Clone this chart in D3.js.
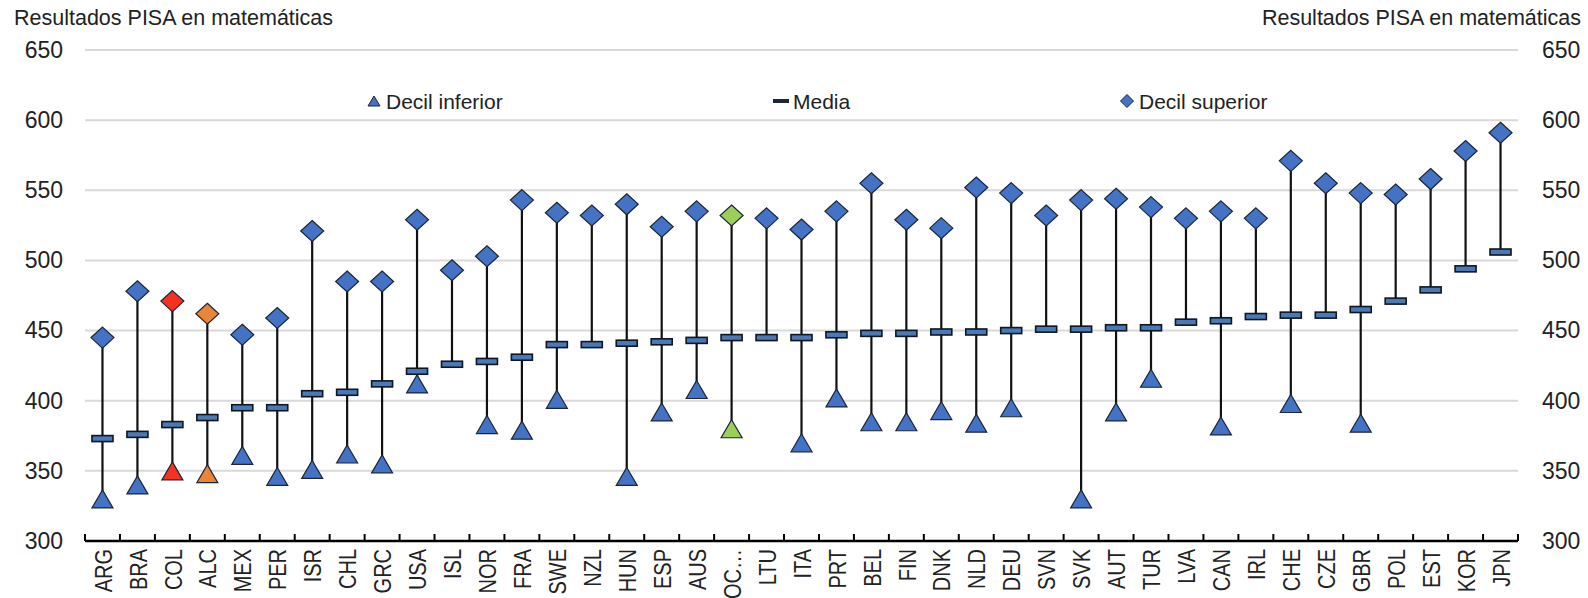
<!DOCTYPE html>
<html>
<head>
<meta charset="utf-8">
<script src="https://cdn.jsdelivr.net/npm/d3@7"></script>
<style>
  html, body { margin: 0; padding: 0; background: #fff; }
  svg { display: block; font-family: "Liberation Sans", Arial, sans-serif; }
</style>
</head>
<body>
<svg id="chart" width="1588" height="598"></svg>
<script>
const countries = ["ARG","BRA","COL","ALC","MEX","PER","ISR","CHL","GRC","USA","ISL","NOR","FRA","SWE","NZL","HUN","ESP","AUS","OC…","LTU","ITA","PRT","BEL","FIN","DNK","NLD","DEU","SVN","SVK","AUT","TUR","LVA","CAN","IRL","CHE","CZE","GBR","POL","EST","KOR","JPN"];
const lowerDecile = [330,340,350,348,361,346,351,362,355,412,null,383,379,401,null,346,392,408,380,null,370,402,385,385,393,384,395,null,330,392,416,null,382,null,398,null,384,null,null,null,null];
const meanScore = [373,376,383,388,395,395,405,406,412,421,426,428,431,440,440,441,442,443,445,445,445,447,448,448,449,449,450,451,451,452,452,456,457,460,461,461,465,471,479,494,506];
const upperDecile = [445,478,471,462,447,459,521,485,485,529,493,503,543,534,532,540,524,535,532,530,522,535,555,529,523,552,548,532,543,544,538,530,535,530,571,555,548,547,558,578,591];
const yTicks = [300,350,400,450,500,550,600,650];
const highlight = {"COL": "#f5311f", "ALC": "#ea8438", "OC…": "#9bcf5a"};
const legendItems = [
  {label: "Decil inferior", type: "tri", x: 374},
  {label: "Media", type: "dash", x: 781},
  {label: "Decil superior", type: "dia", x: 1127}
];
const axisTitle = "Resultados PISA en matemáticas";

const baseBlue = "#4472c4";
const outline = "#1b2636";

const svg = d3.select("#chart");
const pLeft = 85, pRight = 1518, pTop = 50, pBottom = 541;

const x = d3.scaleBand().domain(countries).range([pLeft, pRight]).padding(0);
const y = d3.scaleLinear().domain([300, 650]).range([pBottom, pTop]);

// gridlines
svg.append("g").selectAll("line").data(yTicks.filter(d => d > 300)).join("line")
  .attr("x1", pLeft).attr("x2", pRight)
  .attr("y1", d => y(d)).attr("y2", d => y(d))
  .attr("stroke", "#d9d9d9").attr("stroke-width", 2);

// y axes labels
const yl = d3.axisLeft(y).tickValues(yTicks).tickSize(0).tickPadding(22);
const gl = svg.append("g").attr("transform", `translate(${pLeft},0)`).call(yl);
gl.select(".domain").remove();
gl.selectAll("text").attr("font-size", 23).attr("fill", "#222").attr("font-family", "Liberation Sans, Arial, sans-serif");

const yr = d3.axisRight(y).tickValues(yTicks).tickSize(0).tickPadding(24);
const gr = svg.append("g").attr("transform", `translate(${pRight},0)`).call(yr);
gr.select(".domain").remove();
gr.selectAll("text").attr("font-size", 23).attr("fill", "#222").attr("font-family", "Liberation Sans, Arial, sans-serif");

// titles
svg.append("text").attr("x", 14).attr("y", 25).attr("font-size", 21.5).attr("fill", "#222").text(axisTitle);
svg.append("text").attr("x", 1581).attr("y", 25).attr("text-anchor", "end").attr("font-size", 21.5).attr("fill", "#222").text(axisTitle);

// x axis
svg.append("line").attr("x1", pLeft).attr("x2", pRight).attr("y1", pBottom).attr("y2", pBottom)
  .attr("stroke", "#000").attr("stroke-width", 2.5);
const boundaries = countries.map(c => x(c)).concat([pRight]);
svg.append("g").selectAll("line").data(boundaries).join("line")
  .attr("x1", d => d).attr("x2", d => d)
  .attr("y1", pBottom).attr("y2", pBottom - 7)
  .attr("stroke", "#000").attr("stroke-width", 2);

svg.append("g").selectAll("text").data(countries).join("text")
  .attr("transform", d => `translate(${x(d) + x.bandwidth() / 2 + 1},549) rotate(-90) scale(1,1.2)`)
  .attr("text-anchor", "end").attr("dominant-baseline", "central")
  .attr("font-size", 20).attr("fill", "#222")
  .text(d => d);

const data = countries.map((c, i) => ({c, lo: lowerDecile[i], m: meanScore[i], hi: upperDecile[i]}));
const cx = d => x(d.c) + x.bandwidth() / 2;

// vertical lines
svg.append("g").selectAll("line").data(data).join("line")
  .attr("x1", cx).attr("x2", cx)
  .attr("y1", d => y(d.lo != null ? d.lo : d.m))
  .attr("y2", d => y(d.hi))
  .attr("stroke", "#111").attr("stroke-width", 2.2);

// mean dashes
svg.append("g").selectAll("rect").data(data).join("rect")
  .attr("x", d => cx(d) - 10.5).attr("y", d => y(d.m) - 3)
  .attr("width", 21).attr("height", 6)
  .attr("fill", "#4a79b5").attr("stroke", "#0e1722").attr("stroke-width", 1.6);

// triangles
const triPath = (w, h) => `M0,${-h/2}L${w/2},${h/2}L${-w/2},${h/2}Z`;
svg.append("g").selectAll("path").data(data.filter(d => d.lo != null)).join("path")
  .attr("d", triPath(21, 18))
  .attr("transform", d => `translate(${cx(d)},${y(d.lo)})`)
  .attr("fill", d => highlight[d.c] || baseBlue)
  .attr("stroke", outline).attr("stroke-width", 1.2);

// diamonds
const diaPath = (w, h) => `M0,${-h/2}L${w/2},0L0,${h/2}L${-w/2},0Z`;
svg.append("g").selectAll("path").data(data).join("path")
  .attr("d", diaPath(23, 21))
  .attr("transform", d => `translate(${cx(d)},${y(d.hi)})`)
  .attr("fill", d => highlight[d.c] || baseBlue)
  .attr("stroke", outline).attr("stroke-width", 1.2);

// legend
const lg = svg.append("g");
legendItems.forEach(it => {
  const g = lg.append("g").attr("transform", `translate(${it.x},101)`);
  if (it.type === "tri") {
    g.append("path").attr("d", triPath(12, 10)).attr("fill", baseBlue).attr("stroke", outline).attr("stroke-width", 1);
  } else if (it.type === "dash") {
    g.append("rect").attr("x", -8).attr("y", -2).attr("width", 16).attr("height", 4).attr("fill", "#1b2636");
  } else {
    g.append("path").attr("d", diaPath(13, 13)).attr("fill", baseBlue).attr("stroke", outline).attr("stroke-width", 1);
  }
  g.append("text").attr("x", 12).attr("y", 0).attr("dominant-baseline", "central")
    .attr("font-size", 21).attr("fill", "#222").text(it.label);
});
</script>
</body>
</html>
